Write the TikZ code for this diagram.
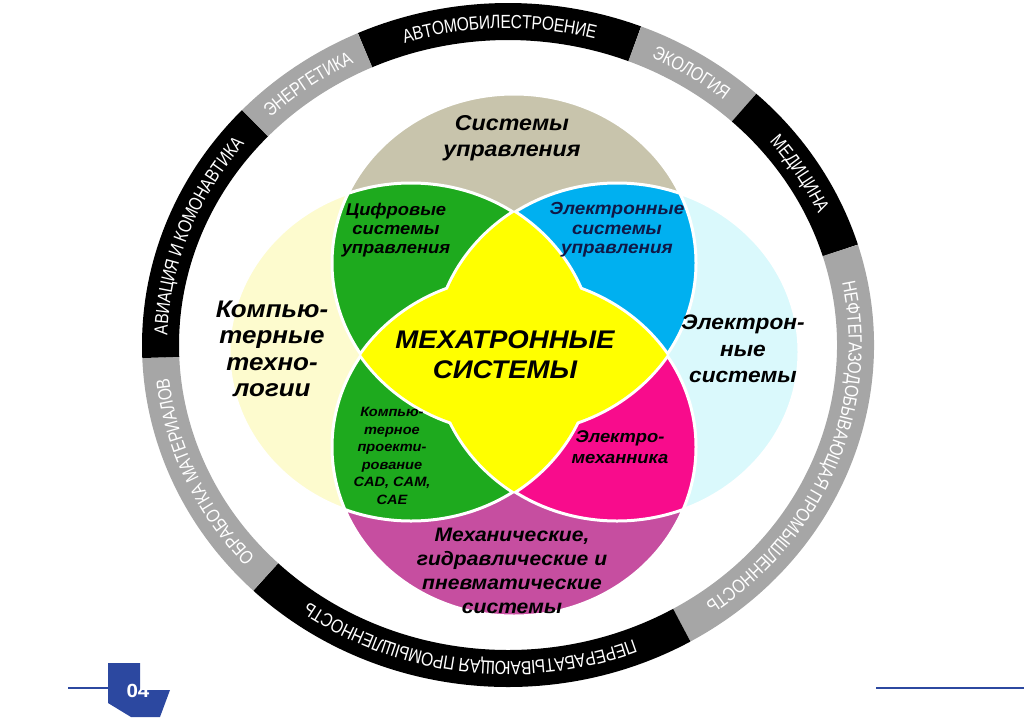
\documentclass[tikz,border=0pt]{standalone}
\usepackage{fontspec}
\setmainfont[FakeStretch=1.08]{Liberation Sans}
\newfontfamily\ringfam[FakeStretch=0.82]{Liberation Sans}
\newcommand{\ringfont}{\ringfam\fontsize{19}{19}\selectfont}
\usetikzlibrary{decorations.text}

\definecolor{tanc}{RGB}{200,196,172}
\definecolor{creamc}{RGB}{253,251,206}
\definecolor{icec}{RGB}{218,249,252}
\definecolor{plumc}{RGB}{198,78,160}
\definecolor{grnc}{RGB}{30,170,30}
\definecolor{bluec}{RGB}{0,176,240}
\definecolor{pinkc}{RGB}{248,12,140}
\definecolor{yelc}{RGB}{255,255,0}
\definecolor{ringgray}{RGB}{166,166,166}
\definecolor{navyc}{RGB}{16,24,70}
\definecolor{slideblue}{RGB}{44,72,160}

% the four big circles (drawn a bit wider than high)
\newcommand{\crx}{182}
\newcommand{\cry}{169}
\newcommand{\topc}{(ct) ellipse[x radius=\crx, y radius=\cry]}
\newcommand{\botc}{(cb) ellipse[x radius=\crx, y radius=\cry]}
\newcommand{\leftc}{(cl) ellipse[x radius=\crx, y radius=\cry]}
\newcommand{\rightc}{(cr) ellipse[x radius=\crx, y radius=\cry]}

\begin{document}
\begin{tikzpicture}[x=1pt,y=1pt,
    lbl/.style 2 args={align=center, inner sep=0pt,
      font=\fontsize{#1}{#2}\selectfont\bfseries\itshape},
    rim/.style={line width=3, draw=white}]
  \useasboundingbox (0,0) rectangle (1024,-723);

  % outer ring
  \begin{scope}[shift={(508,-345)}]
    \foreach \a/\b/\c/\t in {114.3/68.6/black/АВТОМОБИЛЕСТРОЕНИЕ,
        68.6/47.2/ringgray/ЭКОЛОГИЯ,
        47.2/17/black/МЕДИЦИНА,
        17/-60/ringgray/НЕФТЕГАЗОДОБЫВАЮЩАЯ ПРОМЫШЛЕННОСТЬ,
        -60/-134.2/black/ПЕРЕРАБАТЫВАЮЩАЯ ПРОМЫШЛЕННОСТЬ,
        -134.2/-177.8/ringgray/ОБРАБОТКА МАТЕРИАЛОВ,
        -177.8/-223.3/black/АВИАЦИЯ И КОМОНАВТИКА,
        -223.3/-245.7/ringgray/ЭНЕРГЕТИКА}
    {
      \draw[line width=37, \c] (\a:347.5 and 323.5)
        arc[start angle=\a, end angle=\b, x radius=347.5, y radius=323.5];
      \path[decorate, decoration={text along path, text color=white,
          text align=center, raise=-6.8pt,
          text/.expanded={|\noexpand\ringfont|\t}}]
        (\a:347.5 and 323.5)
        arc[start angle=\a, end angle=\b, x radius=347.5, y radius=323.5];
    }
  \end{scope}

  \coordinate (ct) at (514,-263);
  \coordinate (cb) at (514,-447);
  \coordinate (cl) at (411,-352);
  \coordinate (cr) at (617,-352);

  % base circles
  \fill[tanc] \topc;
  \fill[creamc] \leftc;
  \fill[icec] \rightc;
  \fill[plumc] \botc;

  % petals
  \begin{scope}
    \clip \topc;
    \fill[grnc] \leftc;
    \fill[bluec] \rightc;
  \end{scope}
  \begin{scope}
    \clip \botc;
    \fill[grnc] \leftc;
    \fill[pinkc] \rightc;
  \end{scope}
  \draw[rim] \topc \leftc \rightc \botc;

  % yellow core = two lenses
  \begin{scope}
    \clip \leftc;
    \draw[rim, line width=6] \rightc;
  \end{scope}
  \begin{scope}
    \clip \rightc;
    \draw[rim, line width=6] \leftc;
  \end{scope}
  \begin{scope}
    \clip \topc;
    \draw[rim, line width=6] \botc;
  \end{scope}
  \begin{scope}
    \clip \botc;
    \draw[rim, line width=6] \topc;
  \end{scope}
  \begin{scope}
    \clip \leftc;
    \fill[yelc] \rightc;
  \end{scope}
  \begin{scope}
    \clip \topc;
    \fill[yelc] \botc;
  \end{scope}

  % labels
  \node[lbl={21.5}{26}] (sysctl) at (512,-138) {Системы\\управления};
  \node[lbl={17}{19}] (digctl) at (396,-230) {Цифровые\\системы\\управления};
  \node[lbl={17.5}{19.5}, text=navyc] (elctl) at (617,-230)
    {Электронные\\системы\\управления};
  \node[lbl={24}{26.5}] (comptech) at (272,-349) {Компью-\\терные\\техно-\\логии};
  \node[lbl={21}{26.5}] (elsys) at (743,-349) {Электрон-\\ные\\системы};
  \node[lbl={25.5}{30}] (mechatr) at (505,-355) {МЕХАТРОННЫЕ\\СИСТЕМЫ};
  \node[lbl={13.5}{17.6}] (cad) at (392,-456)
    {Компью-\\терное\\проекти-\\рование\\CAD, CAM,\\CAE};
  \node[lbl={17}{20.5}] (elmech) at (620,-447) {Электро-\\механника};
  \node[lbl={19.5}{24}] (mechsys) at (512,-571)
    {Механические,\\гидравлические и\\пневматические\\системы};

  % slide footer
  \fill[slideblue] (108,-663) -- (140,-663) -- (140,-690) -- (170,-690)
    -- (160,-717) -- (131,-717) -- (108,-703) -- cycle;
  \node[font=\fontsize{19}{19}\selectfont\bfseries, text=white, inner sep=0pt]
    (pagenum) at (138,-691) {04};
  \draw[slideblue, line width=1.5] (68,-688) -- (108,-688);
  \draw[slideblue, line width=1.5] (876,-688) -- (1024,-688);
\end{tikzpicture}
\end{document}
